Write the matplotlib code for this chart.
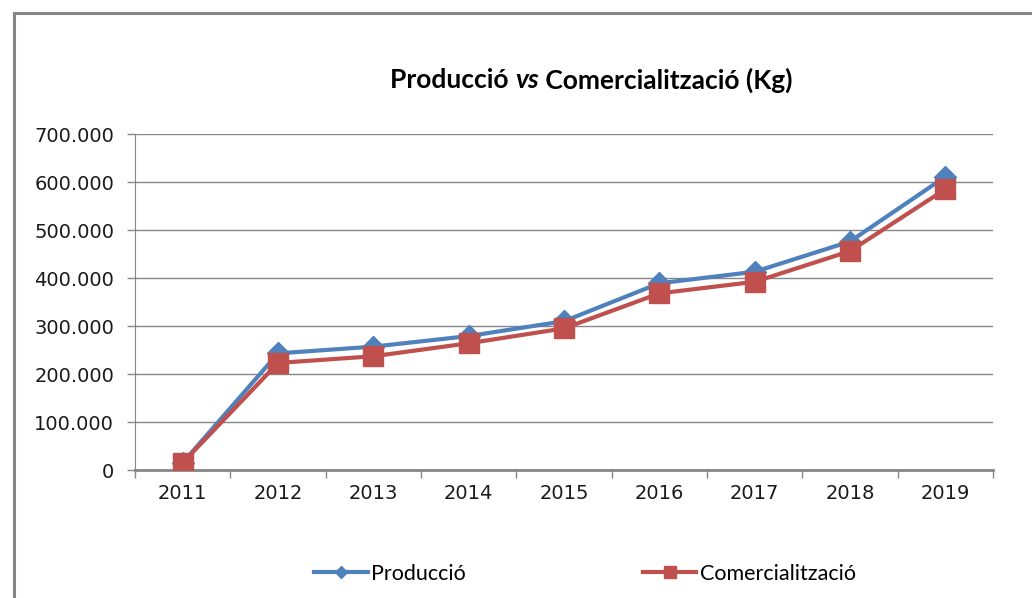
import matplotlib
matplotlib.use("Agg")
import matplotlib.pyplot as plt
from matplotlib.lines import Line2D
from matplotlib.ticker import FuncFormatter, MultipleLocator

years = ["2011", "2012", "2013", "2014", "2015", "2016", "2017", "2018", "2019"]
produccio = [15000, 243000, 257000, 279000, 310000, 389000, 413000, 476000, 611000]
comercialitzacio = [15000, 223000, 237000, 264000, 295000, 368000, 392000, 456000, 585000]

BLUE = "#4F81BD"
RED = "#C0504D"
GREY = "#868686"

fig = plt.figure(figsize=(10.32, 5.98), dpi=100)
W, H = 1032, 598
ax = fig.add_axes([135 / W, 1 - 470 / H, (993 - 135) / W, (470 - 134) / H])

x = range(len(years))
ax.plot(x, produccio, color=BLUE, lw=3, marker="D", ms=11, label="Producció",
        solid_joinstyle="round", zorder=3)
ax.plot(x, comercialitzacio, color=RED, lw=3, marker="s", ms=15, label="Comercialització",
        solid_joinstyle="round", zorder=4)

ax.set_xlim(-0.5, len(years) - 0.5)
ax.set_ylim(0, 700000)
ax.yaxis.set_major_locator(MultipleLocator(100000))
ax.yaxis.set_major_formatter(FuncFormatter(lambda v, p: f"{int(v):,}".replace(",", ".")))
ax.grid(axis="y", color=GREY, lw=1)
ax.set_axisbelow(True)

ax.set_xticks(list(x))
ax.set_xticklabels(years)
ax.set_xticks([i - 0.5 for i in range(len(years) + 1)], minor=True)
ax.tick_params(axis="x", which="major", length=0, pad=10, labelsize=14, labelcolor="#1a1a1a")
ax.tick_params(axis="x", which="minor", length=6, width=1, color=GREY, direction="out")
ax.tick_params(axis="y", length=6, width=1, color=GREY, pad=9, labelsize=14, labelcolor="#1a1a1a")

for s in ["top", "right"]:
    ax.spines[s].set_visible(False)
ax.spines["left"].set_color(GREY)
ax.spines["bottom"].set_color(GREY)
ax.spines["bottom"].set_linewidth(2)

# chart frame (only left and top edges fall inside the picture)
fig.add_artist(Line2D([14 / W, 14 / W], [0, 1 - 13 / H], color=GREY, lw=2.2))
fig.add_artist(Line2D([14 / W, 1], [1 - 13 / H, 1 - 13 / H], color=GREY, lw=2.2))

# title with italic "vs"
tfont = dict(family="Lato", weight="bold", size=19)
parts = [("Producció ", "normal"), ("vs", "italic"), (" Comercialització (Kg)", "normal")]
fig.canvas.draw()
r = fig.canvas.get_renderer()
texts = []
for s, st in parts:
    t = fig.text(0, 1 - 80 / H, s, style=st, va="center", ha="left", **tfont)
    texts.append(t)
widths = [t.get_window_extent(renderer=r).width for t in texts]
xpos = 591 - sum(widths) / 2
for t, w in zip(texts, widths):
    t.set_x(xpos / W)
    xpos += w

leg = fig.legend(loc="center", bbox_to_anchor=(585 / W, 1 - 574 / H), ncol=2, frameon=False,
                 prop=dict(family="Lato", size=15.5), handlelength=2.5, handletextpad=0.15,
                 columnspacing=8.2, markerscale=0.6)

fig.savefig("out.png", dpi=100)
